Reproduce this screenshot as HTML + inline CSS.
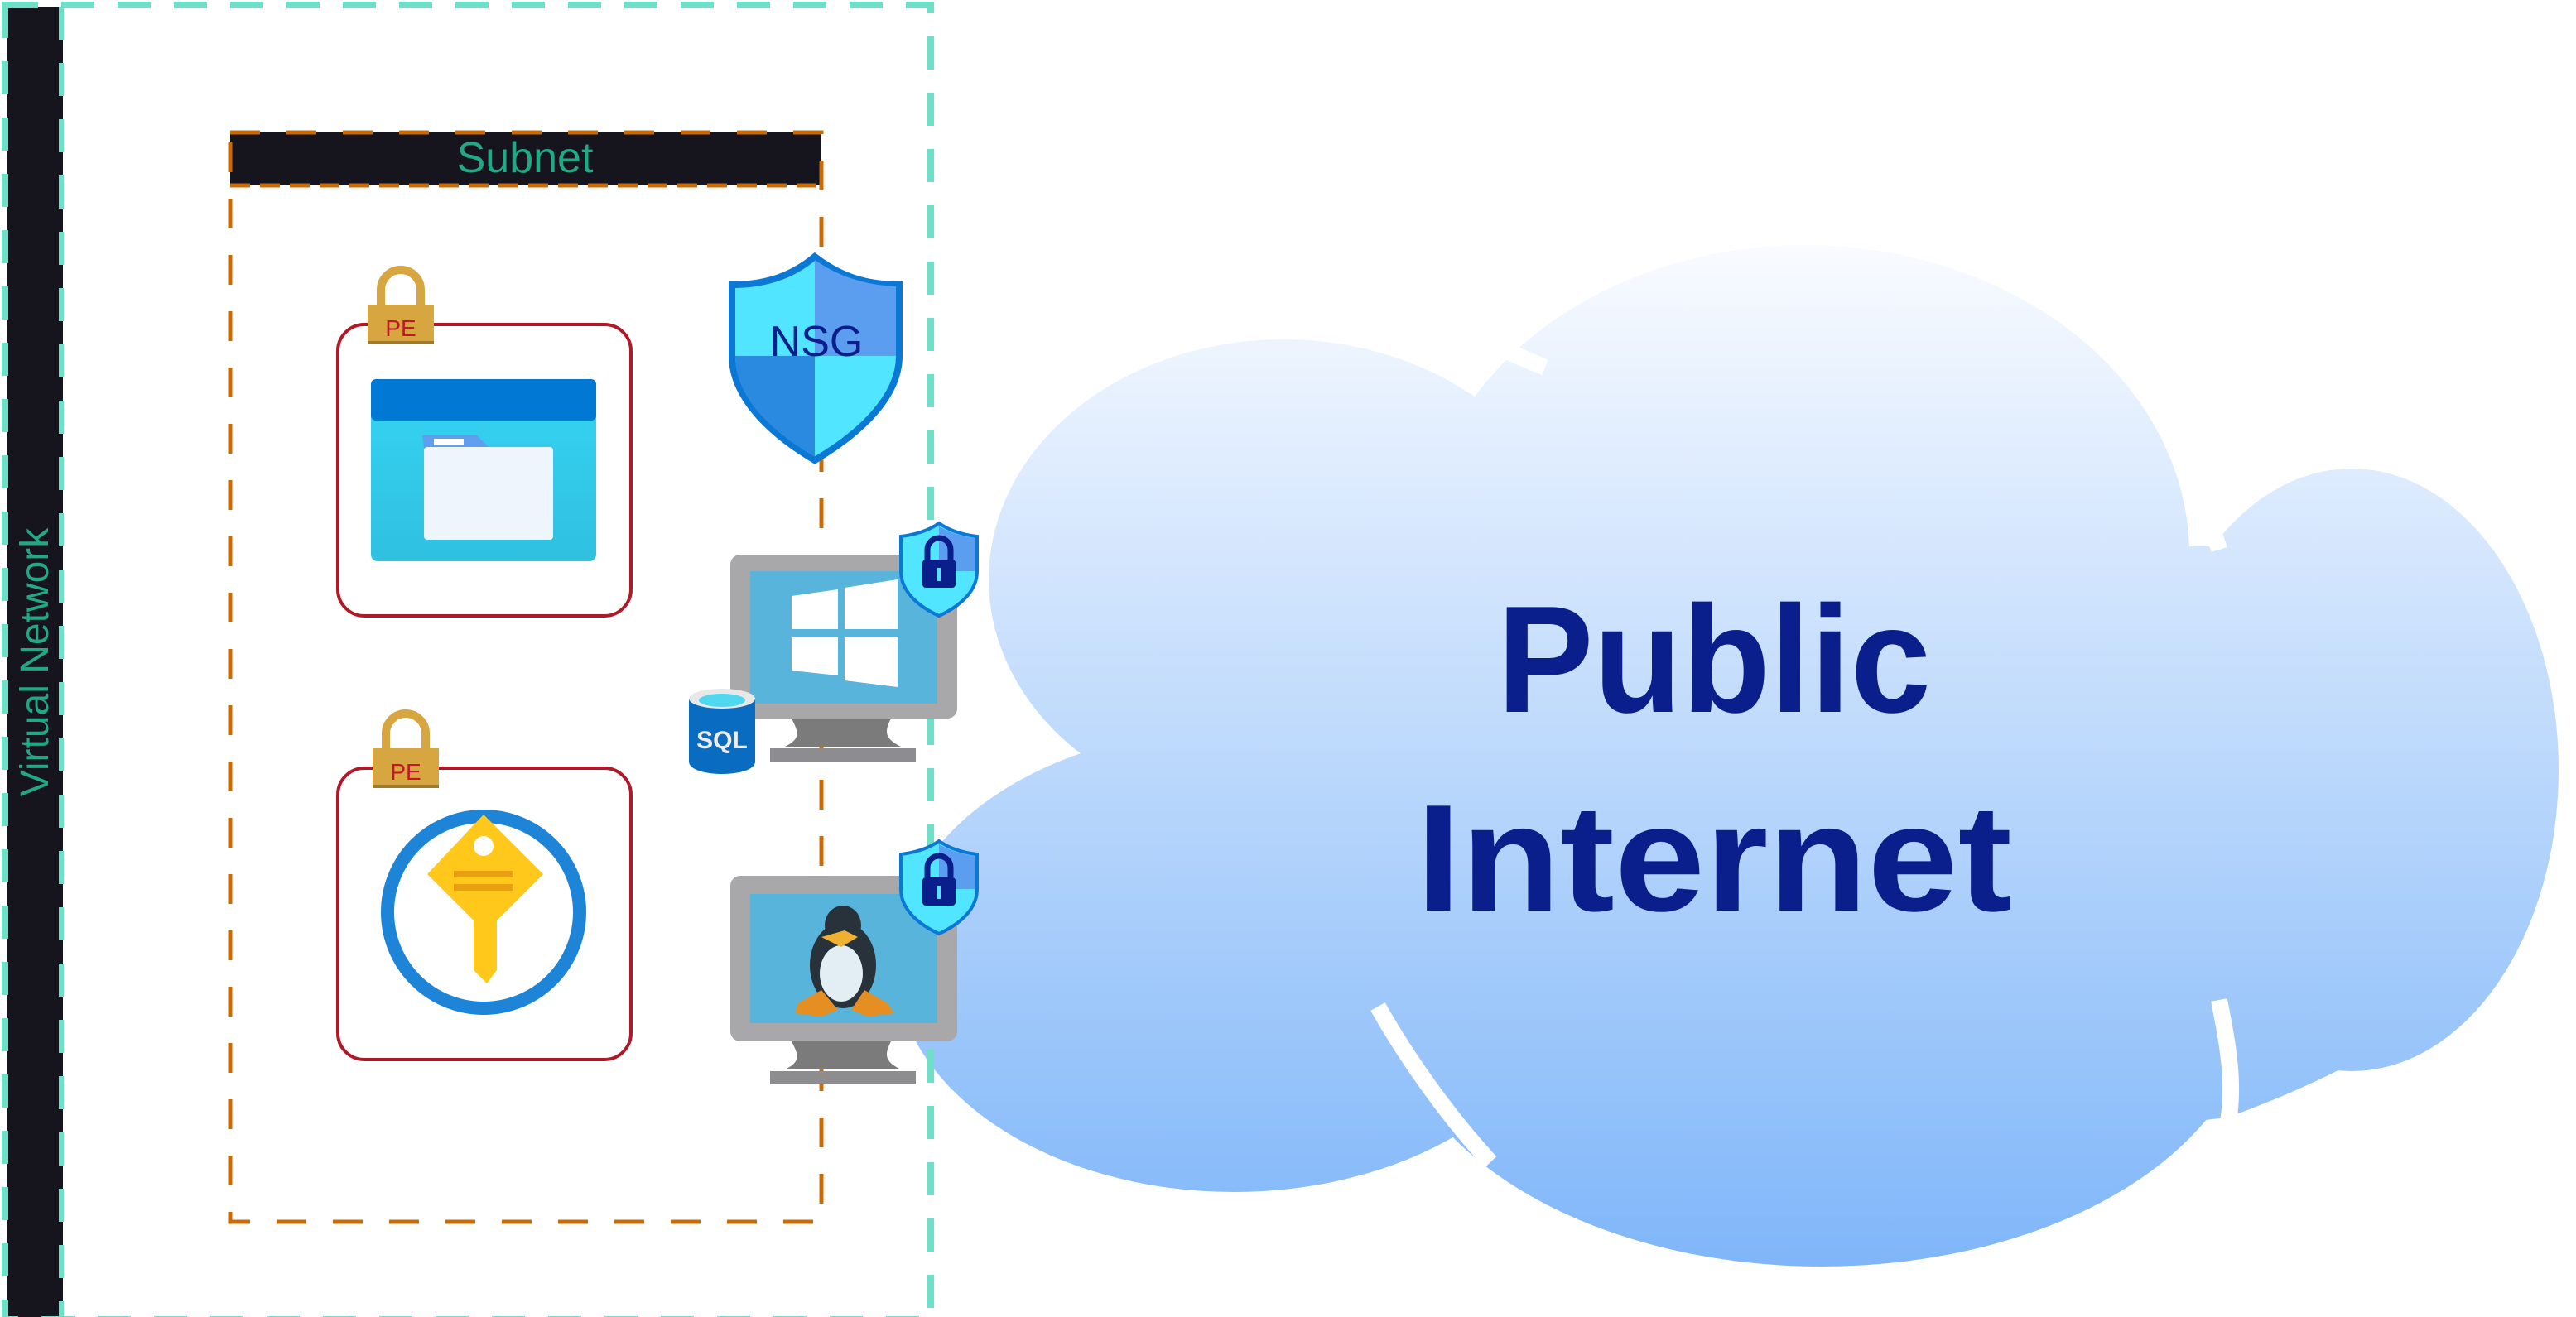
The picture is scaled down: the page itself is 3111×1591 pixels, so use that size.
<!DOCTYPE html>
<html><head><meta charset="utf-8"><style>html,body{margin:0;padding:0;background:#fff;}svg{display:block}</style></head>
<body>
<svg width="3111" height="1591" viewBox="0 0 1555.5 795.5" xmlns="http://www.w3.org/2000/svg">
<defs>
<linearGradient id="cg" x1="0" y1="148" x2="0" y2="765" gradientUnits="userSpaceOnUse">
<stop offset="0" stop-color="#f9fbff"/><stop offset="1" stop-color="#7fb6f9"/></linearGradient>
<linearGradient id="sc" x1="0" y1="0" x2="0" y2="1"><stop offset="0" stop-color="#36d4f4"/><stop offset="1" stop-color="#30c0e0"/></linearGradient>
</defs>
<!-- cloud -->
<g fill="url(#cg)">
<ellipse cx="1090" cy="335" rx="232" ry="187"/>
<ellipse cx="775" cy="350" rx="178" ry="145"/>
<ellipse cx="1420" cy="465" rx="125" ry="182"/>
<ellipse cx="745" cy="580" rx="205" ry="140"/>
<ellipse cx="1100" cy="600" rx="262" ry="165"/>
<rect x="660" y="330" width="700" height="300"/>
<path d="M1300 560 L1500 590 C1450 630 1400 655 1345 675 L1300 680z"/>
</g>
<g stroke="#fff" stroke-width="10" fill="none" stroke-linecap="butt">
<path d="M900 208 L933 222"/>
<path d="M1318 282 C1330 300 1336 318 1340 332"/>
<path d="M578 400 C590 412 600 424 612 432"/>
<path d="M832 608 C850 640 875 675 900 702"/>
<path d="M1340 604 C1345 630 1350 655 1345 680"/>
</g>
<text x="1035" y="430" font-family="'Liberation Sans',sans-serif" font-weight="bold" font-size="92" fill="#0b1f8c" text-anchor="middle" textLength="262" lengthAdjust="spacingAndGlyphs">Public</text>
<text x="1035" y="550" font-family="'Liberation Sans',sans-serif" font-weight="bold" font-size="92" fill="#0b1f8c" text-anchor="middle" textLength="360" lengthAdjust="spacingAndGlyphs">Internet</text>

<!-- virtual network -->
<rect x="4" y="4" width="34" height="792" fill="#16141c"/>
<rect x="3" y="3" width="559" height="794" fill="none" stroke="#6ee0c8" stroke-width="4" stroke-dasharray="20 14"/>
<line x1="37" y1="4" x2="37" y2="796" stroke="#6ee0c8" stroke-width="3" stroke-dasharray="20 14"/>
<text transform="translate(29,400) rotate(-90)" font-family="'Liberation Sans',sans-serif" font-size="24" fill="#22a884" text-anchor="middle">Virtual Network</text>

<!-- subnet -->
<rect x="139" y="80" width="357" height="32" fill="#16141c"/>
<rect x="139" y="80" width="357" height="658" fill="none" stroke="#c86c0a" stroke-width="2.5" stroke-dasharray="18 16"/>
<line x1="139" y1="112" x2="496" y2="112" stroke="#c86c0a" stroke-width="2.5" stroke-dasharray="12 6"/>
<text x="317" y="104" font-family="'Liberation Sans',sans-serif" font-size="26" fill="#22a884" text-anchor="middle">Subnet</text>

<!-- PE boxes -->
<rect x="204" y="196" width="177" height="176" rx="16" fill="#fff" stroke="#b01a28" stroke-width="2"/>
<rect x="204" y="464" width="177" height="176" rx="16" fill="#fff" stroke="#b01a28" stroke-width="2"/>
<g>
<path d="M230 185 V175 a12 12 0 0 1 24 0 V185" fill="none" stroke="#d8a640" stroke-width="5"/>
<rect x="222" y="184" width="40" height="24" fill="#d8a640"/><rect x="222" y="206" width="40" height="2" fill="#a07a28"/>
<text x="242" y="203" font-family="'Liberation Sans',sans-serif" font-size="14" fill="#c01828" text-anchor="middle">PE</text>
</g>
<g transform="translate(3,268)">
<path d="M230 185 V175 a12 12 0 0 1 24 0 V185" fill="none" stroke="#d8a640" stroke-width="5"/>
<rect x="222" y="184" width="40" height="24" fill="#d8a640"/><rect x="222" y="206" width="40" height="2" fill="#a07a28"/>
<text x="242" y="203" font-family="'Liberation Sans',sans-serif" font-size="14" fill="#c01828" text-anchor="middle">PE</text>
</g>
<!-- storage -->
<rect x="224" y="229" width="136" height="110" rx="4" fill="url(#sc)"/>
<rect x="224" y="229" width="136" height="25" rx="3" fill="#0078d4"/>
<path d="M255 263 h33 l8 8 h-40z" fill="#5ea0ee"/>
<rect x="256" y="270" width="78" height="56" rx="2" fill="#eef5fd"/>
<rect x="262" y="265" width="18" height="4" fill="#fff"/>
<!-- key vault -->
<circle cx="292" cy="551" r="58" fill="#fff" stroke="#1e84d8" stroke-width="8"/>
<path d="M292 492 l36 36 l-28 28 v30 l-6 8 l-8 -8 v-30 l-28 -28z" fill="#ffc81a"/>
<circle cx="292" cy="511" r="6" fill="#fff"/>
<rect x="274" y="526" width="36" height="4" fill="#e8a010"/><rect x="274" y="534" width="36" height="4" fill="#e8a010"/>
<!-- NSG -->
<path d="M492 155 C480 165 465 172 442 172 V215 C442 240 465 262 492 278 C519 262 543 240 543 215 V172 C520 172 505 165 492 155z" fill="#52e5ff" stroke="#0a78d4" stroke-width="4"/>
<path d="M492 157 C505 166 520 172 541 173 V215 H492z" fill="#5b9def"/>
<path d="M444 215 H492 V276 C465 260 444 240 444 215z" fill="#2a8ae0"/>
<text x="493" y="215" font-family="'Liberation Sans',sans-serif" font-size="26" fill="#0a1e8c" text-anchor="middle">NSG</text>
<!-- monitors -->
<g id="mon">
<rect x="441" y="335" width="137" height="99" rx="6" fill="#a8a8aa"/>
<rect x="453" y="345" width="113" height="80" fill="#58b4da"/>
<path d="M478 360 l28 -4 v24 h-28z M510 355 l32 -5 v30 h-32z M478 385 h28 v23 l-28 -3z M510 385 h32 v30 l-32 -4z" fill="#fff"/>
<path d="M478 434 h60 c-4 8 -4 12 6 17 h-70 c10 -5 8 -9 4 -17z" fill="#7b7b7b"/>
<rect x="465" y="452" width="88" height="8" fill="#8d8d8f"/>
</g>
<rect x="441" y="529" width="137" height="100" rx="6" fill="#a8a8aa"/>
<rect x="453" y="540" width="113" height="78" fill="#58b4da"/>
<path d="M478 629 h60 c-4 8 -4 12 6 17 h-70 c10 -5 8 -9 4 -17z" fill="#7b7b7b"/>
<rect x="465" y="647" width="88" height="8" fill="#8d8d8f"/>
<!-- penguin -->
<ellipse cx="509" cy="583" rx="20" ry="26" fill="#27323a"/>
<ellipse cx="509" cy="559" rx="11" ry="12" fill="#27323a"/>
<ellipse cx="508" cy="588" rx="13" ry="17" fill="#e2eef4"/>
<path d="M496 566 l14 -4 l8 4 l-10 6z" fill="#f0b030"/>
<path d="M482 606 l14 -8 l10 12 l-10 4 l-16 -2z M536 606 l-14 -8 l-8 12 l10 4 l16 -2z" fill="#e58f22"/>
<!-- small shields -->
<g id="ss">
<path d="M567 316 C560 321 552 323 544 324 V345 C544 357 554 366 567 372 C580 366 590 357 590 345 V324 C582 323 574 321 567 316z" fill="#52e5ff" stroke="#0a78d4" stroke-width="2"/>
<path d="M567 318 C574 322 581 324 589 325 V345 H567z" fill="#5b9def"/>
<path d="M560 338 v-6 a7 7 0 0 1 14 0 v6" fill="none" stroke="#0a1e8c" stroke-width="3.5"/>
<rect x="557" y="338" width="20" height="17" rx="2" fill="#0a1e8c"/>
<rect x="566" y="343" width="2" height="8" fill="#52e5ff"/>
</g>
<use href="#ss" transform="translate(0,192)"/>
<!-- SQL -->
<path d="M416 422 v38 c0 10 40 10 40 0 v-38z" fill="#0a6cc0"/>
<ellipse cx="436" cy="422" rx="20" ry="6" fill="#e8e8e8"/>
<ellipse cx="436" cy="423" rx="14" ry="4" fill="#50d8f0"/>
<text x="436" y="452" font-family="'Liberation Sans',sans-serif" font-weight="bold" font-size="15" fill="#eee" text-anchor="middle">SQL</text>
</svg>
</body></html>
